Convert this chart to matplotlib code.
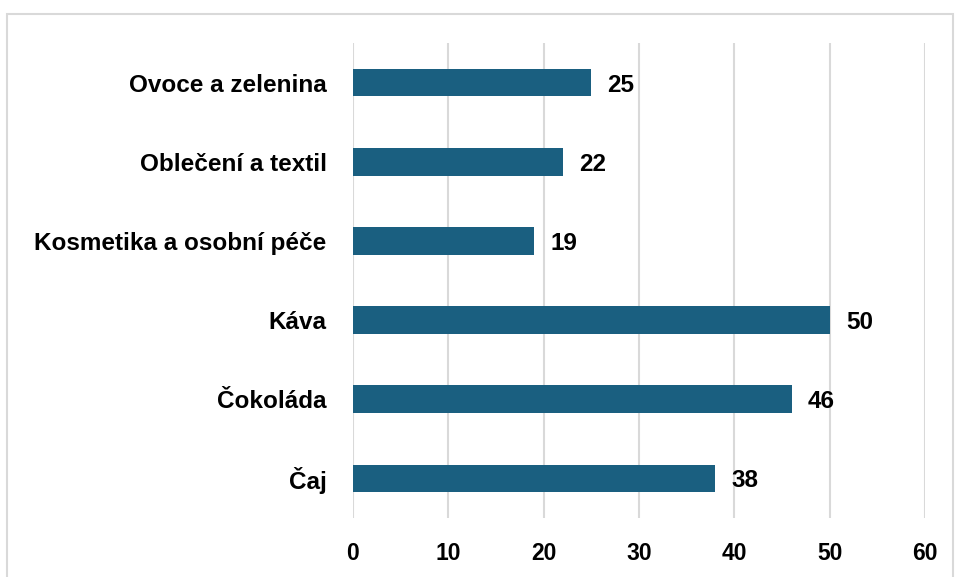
import matplotlib
matplotlib.use("Agg")
import matplotlib.pyplot as plt
from matplotlib.patches import Rectangle

categories = ["Čaj", "Čokoláda", "Káva", "Kosmetika a osobní péče", "Oblečení a textil", "Ovoce a zelenina"]
values = [38, 46, 50, 19, 22, 25]
xticks = [0, 10, 20, 30, 40, 50, 60]

bar_color = "#1a5f80"
grid_color = "#d9d9d9"

plt.rcParams['font.family'] = ['Liberation Sans', 'DejaVu Sans']

fig = plt.figure(figsize=(9.55, 5.77), dpi=100)
ax = fig.add_axes([0.3696, 0.1023, 0.5990, 0.8232])

ypos = range(len(categories))
ax.barh(ypos, values, height=0.35, color=bar_color, zorder=3)

for y, v in zip(ypos, values):
    ax.text(v + 1.7, y, str(v), va="center_baseline", ha="left", fontsize=17.5,
            fontweight="bold", color="black")

ax.set_xlim(0, 60)
ax.set_ylim(-0.5, len(categories) - 0.5)
ax.set_xticks(xticks)
ax.set_xticklabels([str(t) for t in xticks], fontsize=16.5, fontweight="bold")
ax.set_yticks(list(ypos))
ax.set_yticklabels(categories, fontsize=17.5, fontweight="bold")
ax.tick_params(axis="both", length=0)
ax.tick_params(axis="x", pad=17)
ax.tick_params(axis="y", pad=19)

ax.grid(axis="x", color=grid_color, linewidth=1.5, zorder=0)
for side in ["top", "right", "bottom", "left"]:
    ax.spines[side].set_visible(False)

# outer chart border
fig.patches.append(Rectangle((0.0075, -0.02), 0.99, 0.995, transform=fig.transFigure,
                             fill=False, edgecolor="#d9d9d9", linewidth=1.5))

fig.savefig("out.png", dpi=100)
